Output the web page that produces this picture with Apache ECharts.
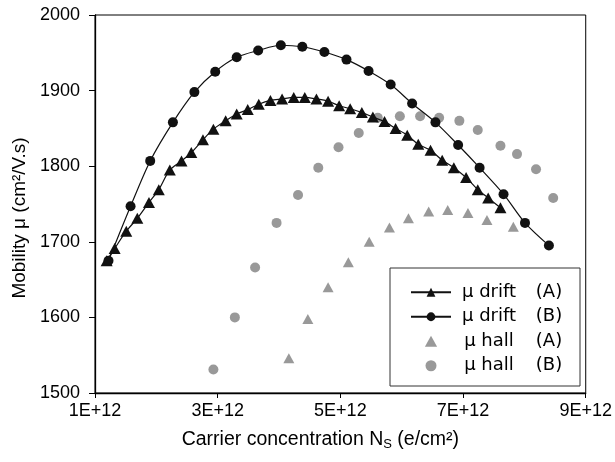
<!DOCTYPE html>
<html>
<head>
<meta charset="utf-8">
<script src="https://cdn.jsdelivr.net/npm/echarts@6/dist/echarts.min.js"></script>
<style>html,body{margin:0;padding:0;background:#fff;}#c{width:615px;height:462px;}</style>
</head>
<body>
<div id="c"></div>
<script>
// x values in units of 1E+12 e/cm²
const seriesNames = ['μ drift (A)', 'μ drift (B)', 'μ hall (A)', 'μ hall (B)'];
const xTickLabels = ['1E+12', '3E+12', '5E+12', '7E+12', '9E+12'];

const driftA_x = [1.19,1.32,1.51,1.69,1.88,2.04,2.22,2.41,2.57,2.76,2.93,3.13,3.31,3.49,3.67,3.86,4.05,4.24,4.42,4.61,4.80,4.98,5.16,5.35,5.53,5.72,5.90,6.09,6.27,6.47,6.66,6.85,7.05,7.24,7.41,7.61];
const driftA_y = [1675,1691,1714,1731,1752,1769,1795,1807,1818,1835,1849,1860,1869,1875,1882,1887,1889,1891,1891,1889,1886,1880,1876,1871,1865,1859,1850,1841,1829,1821,1808,1798,1785,1769,1758,1745];

const driftB_x = [1.22,1.58,1.90,2.27,2.62,2.96,3.31,3.66,4.03,4.38,4.74,5.10,5.46,5.82,6.17,6.55,6.92,7.27,7.66,8.01,8.40];
const driftB_y = [1675,1747,1807,1858,1898,1925,1944,1953,1960,1958,1951,1941,1926,1908,1883,1858,1828,1798,1763,1725,1695];

const hallA_x = [4.16,4.47,4.80,5.13,5.47,5.80,6.11,6.44,6.75,7.08,7.39,7.82];
const hallA_y = [1546,1598,1640,1673,1700,1719,1731,1740,1742,1738,1729,1720];

const hallB_x = [2.93,3.28,3.61,3.96,4.31,4.64,4.97,5.30,5.61,5.97,6.30,6.61,6.94,7.24,7.61,7.88,8.19,8.47];
const hallB_y = [1531,1600,1666,1725,1762,1798,1825,1844,1864,1866,1866,1864,1860,1848,1827,1816,1796,1758];

const zip = (xs, ys) => xs.map((x, i) => [x, ys[i]]);

const axisFont = 'Liberation Sans, Arial, Helvetica, sans-serif';
const legendFont = 'Comic Sans MS, DejaVu Sans, sans-serif';

const chart = echarts.init(document.getElementById('c'), null, {renderer: 'canvas'});
chart.setOption({
  animation: false,
  backgroundColor: '#fff',
  grid: {left: 95, right: 27, top: 15, bottom: 69, show: true, borderColor: '#000', borderWidth: 1, backgroundColor: 'transparent'},
  xAxis: {
    type: 'value', min: 1, max: 9, interval: 2,
    axisLine: {show: true, lineStyle: {color: '#000', width: 1.3}},
    axisTick: {show: true, length: 5, lineStyle: {color: '#000'}},
    splitLine: {show: false},
    axisLabel: {color: '#000', fontSize: 18, fontFamily: axisFont, margin: 9,
      formatter: v => xTickLabels[Math.round((v - 1) / 2)]},
    name: 'Carrier concentration N{s|S} (e/cm²)',
    nameLocation: 'middle', nameGap: 35,
    nameTextStyle: {color: '#000', fontSize: 19.5, fontFamily: axisFont, padding: [0, 40, 0, 0],
      rich: {s: {fontSize: 13, fontFamily: axisFont, color: '#000', padding: [10, 0, 0, 0]}}}
  },
  yAxis: {
    type: 'value', min: 1500, max: 2000, interval: 100,
    axisLine: {show: true, lineStyle: {color: '#000', width: 1.3}},
    axisTick: {show: true, length: 6, lineStyle: {color: '#000'}},
    splitLine: {show: false},
    axisLabel: {color: '#000', fontSize: 18, fontFamily: axisFont, margin: 15,
      formatter: v => String(v)},
    name: 'Mobility μ (cm²/V.s)',
    nameLocation: 'middle', nameGap: 65,
    nameTextStyle: {color: '#000', fontSize: 19, fontFamily: axisFont, padding: [0, 28, 0, 0]}
  },
  legend: {
    orient: 'vertical', left: 390, top: 268,
    itemWidth: 40, itemHeight: 11, itemGap: 4,
    symbolKeepAspect: true,
    padding: [14, 14, 10, 20],
    borderColor: '#333', borderWidth: 1, backgroundColor: '#fff',
    data: [
      seriesNames[0],
      seriesNames[1],
      {name: seriesNames[2], icon: 'path://M5,0L10,9L0,9Z'},
      seriesNames[3]
    ],
    textStyle: {color: '#000', fontSize: 18, fontFamily: legendFont, lineHeight: 20.5,
      rich: {
        n: {width: 66, align: 'center', fontSize: 18, fontFamily: legendFont, color: '#000'},
        p: {width: 34, padding: [0, 0, 0, 10], fontSize: 18, fontFamily: legendFont, color: '#000'}
      }},
    formatter: name => {
      const i = name.indexOf(' (');
      return '{n|' + name.slice(0, i) + '}{p|' + name.slice(i + 1) + '}';
    }
  },
  series: [
    {name: seriesNames[0], type: 'line', data: zip(driftA_x, driftA_y), smooth: 0.3,
      symbol: 'triangle', symbolSize: [12, 11], showSymbol: true,
      itemStyle: {color: '#111'}, lineStyle: {color: '#111', width: 1.2}, z: 3},
    {name: seriesNames[1], type: 'line', data: zip(driftB_x, driftB_y), smooth: 0.3,
      symbol: 'circle', symbolSize: 10, showSymbol: true,
      itemStyle: {color: '#111'}, lineStyle: {color: '#111', width: 1.2}, z: 3},
    {name: seriesNames[2], type: 'scatter', data: zip(hallA_x, hallA_y),
      symbol: 'triangle', symbolSize: [11, 10], itemStyle: {color: '#999', opacity: 1}, z: 2},
    {name: seriesNames[3], type: 'scatter', data: zip(hallB_x, hallB_y),
      symbol: 'circle', symbolSize: 10, itemStyle: {color: '#999', opacity: 1}, z: 2}
  ]
});
</script>
</body>
</html>
